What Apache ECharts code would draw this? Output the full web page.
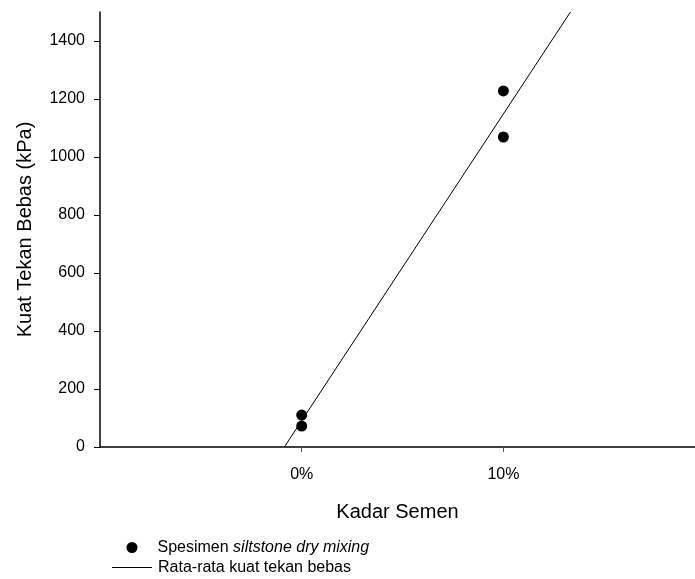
<!DOCTYPE html>
<html>
<head>
<meta charset="utf-8">
<script src="https://cdn.jsdelivr.net/npm/echarts@6/dist/echarts.min.js"></script>
<style>
  html, body { margin: 0; padding: 0; background: #fff; }
  #chart { width: 695px; height: 579px; }
</style>
</head>
<body>
<div id="chart"></div>
<script>
// data
const kadarSemen = [0, 0, 10, 10];          // % semen
const kuatTekan = [110, 72, 1228, 1069];    // kPa
const yTicks = [0, 200, 400, 600, 800, 1000, 1200, 1400];
const xTicks = [0, 10];
const yMax = 1500;

// garis rata-rata: melalui nilai rata-rata tiap kadar
const mean = (arr) => arr.reduce((a, b) => a + b, 0) / arr.length;
const m0 = mean(kuatTekan.filter((v, i) => kadarSemen[i] === 0));
const m10 = mean(kuatTekan.filter((v, i) => kadarSemen[i] === 10));
const slope = (m10 - m0) / 10;
const lineData = [[(0 - m0) / slope, 0], [(yMax - m0) / slope, yMax]];

const chart = echarts.init(document.getElementById('chart'));
const font = 'Liberation Sans, Arial, sans-serif';
const legendText = {
  fontSize: 16, color: '#000', fontFamily: font,
  rich: {
    n: { fontSize: 16, color: '#000', fontFamily: font },
    i: { fontSize: 16, color: '#000', fontFamily: font, fontStyle: 'italic' }
  }
};

chart.setOption({
  animation: false,
  textStyle: { fontFamily: font },
  grid: { left: 100, right: 0, top: 12, bottom: 132 },
  xAxis: {
    type: 'value',
    min: -10,
    max: 19.5,
    name: 'Kadar Semen',
    nameLocation: 'middle',
    nameGap: 55,
    nameTextStyle: { fontSize: 20, color: '#000', fontFamily: font },
    axisLine: { onZero: false, lineStyle: { color: '#000', width: 1.5 } },
    axisTick: { show: true, length: 5, customValues: xTicks, lineStyle: { color: '#555' } },
    axisLabel: {
      customValues: xTicks,
      formatter: (v) => v + '%',
      fontSize: 16, color: '#000', margin: 20, fontFamily: font
    },
    splitLine: { show: false }
  },
  yAxis: {
    type: 'value',
    min: 0,
    max: yMax,
    name: 'Kuat Tekan Bebas (kPa)',
    nameLocation: 'middle',
    nameGap: 65,
    nameTextStyle: { fontSize: 20, color: '#000', fontFamily: font },
    axisLine: { show: true, onZero: false, lineStyle: { color: '#000', width: 1.5 } },
    axisTick: { show: true, length: 6, customValues: yTicks, lineStyle: { color: '#000' } },
    axisLabel: {
      customValues: yTicks,
      formatter: (v) => String(v),
      fontSize: 16, color: '#000', margin: 15, fontFamily: font
    },
    splitLine: { show: false }
  },
  legend: [
    {
      left: 126.5,
      top: 539.5,
      padding: 0,
      icon: 'circle',
      itemWidth: 11,
      itemHeight: 11,
      textStyle: Object.assign({ padding: [0, 0, 0, 15] }, legendText),
      formatter: () => '{n|Spesimen }{i|siltstone dry mixing}',
      data: ['Spesimen siltstone dry mixing']
    },
    {
      left: 112,
      top: 559.5,
      padding: 0,
      icon: 'rect',
      itemWidth: 40,
      itemHeight: 1,
      textStyle: Object.assign({ padding: [0, 0, 0, 1] }, legendText),
      data: ['Rata-rata kuat tekan bebas']
    }
  ],
  series: [
    {
      name: 'Spesimen siltstone dry mixing',
      type: 'scatter',
      symbol: 'circle',
      symbolSize: 11,
      itemStyle: { color: '#000', opacity: 1 },
      data: kadarSemen.map((x, i) => [x, kuatTekan[i]]),
      z: 3
    },
    {
      name: 'Rata-rata kuat tekan bebas',
      type: 'line',
      showSymbol: false,
      symbol: 'none',
      clip: true,
      lineStyle: { color: '#000', width: 1 },
      itemStyle: { color: '#000' },
      data: lineData
    }
  ]
});
</script>
</body>
</html>
